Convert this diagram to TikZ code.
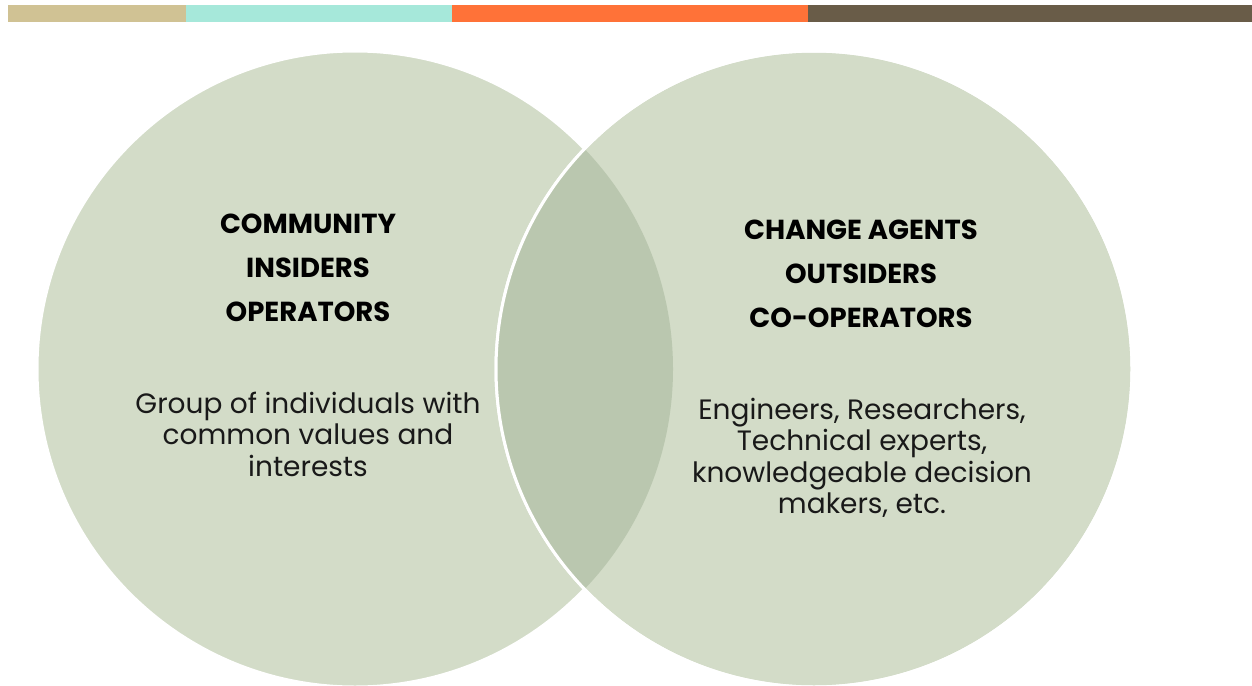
\documentclass[tikz,border=0pt]{standalone}
\usepackage{fontspec}
\setmainfont{Poppins}
\definecolor{bartan}{HTML}{D0C294}
\definecolor{baraqua}{HTML}{A6E8DA}
\definecolor{barorange}{HTML}{FF7238}
\definecolor{barbrown}{HTML}{695C48}
\definecolor{sage}{HTML}{D3DCC8}
\definecolor{lens}{HTML}{BAC7AF}
\tikzset{
  head/.style={align=center, text=black, font=\fontsize{27.5}{44}\selectfont\bfseries, inner sep=0pt},
  body/.style={align=center, text=black!90, font=\fontsize{28}{31.5}\selectfont, inner sep=0pt},
  ring/.style={draw=white, line width=3pt},
}
\begin{document}
\begin{tikzpicture}[x=1pt,y=-1pt]
\useasboundingbox (0,0) rectangle (1252,685);
\clip (0,0) rectangle (1252,685);
\fill[bartan] (8,5) rectangle (186,22);
\fill[baraqua] (186,5) rectangle (452,22);
\fill[barorange] (452,5) rectangle (808,22);
\fill[barbrown] (808,5) rectangle (1252,22);
\coordinate (cl) at (355,369);
\coordinate (cr) at (814,369);
\fill[sage, ring] (cl) circle (318);
\fill[sage, ring] (cr) circle (318);
\begin{scope}
  \clip (cl) circle (318);
  \fill[lens] (cr) circle (318);
\end{scope}
\draw[ring] (cr) circle (318);
\node[head] (lhead) at (308,268) {COMMUNITY\\INSIDERS\\OPERATORS};
\node[body] (lbody) at (308,434) {Group of individuals with\\common values and\\interests};
\node[head] (rhead) at (861,274) {CHANGE AGENTS\\OUTSIDERS\\CO-OPERATORS};
\node[body] (rbody) at (862,458) {Engineers, Researchers,\\Technical experts,\\knowledgeable decision\\makers, etc.};
\end{tikzpicture}
\end{document}
